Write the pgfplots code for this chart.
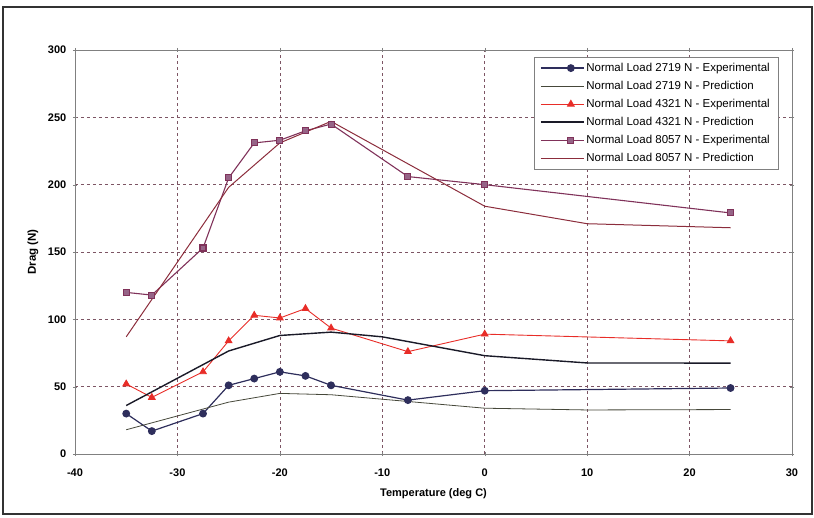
\documentclass[border=0pt]{standalone}
\usepackage{pgfplots}
\pgfplotsset{compat=1.18}
\usepackage{fontspec}
\setmainfont{Liberation Sans}
\definecolor{cA}{RGB}{46,46,92}
\definecolor{cAp}{RGB}{70,72,58}
\definecolor{cB}{RGB}{232,45,40}
\definecolor{cBp}{RGB}{26,26,40}
\definecolor{cC}{RGB}{128,50,90}
\definecolor{cCf}{RGB}{150,100,135}
\definecolor{cCp}{RGB}{140,45,60}
\definecolor{gridc}{RGB}{125,85,100}
\begin{document}
\begin{tikzpicture}
\begin{axis}[
  scale only axis, width=717pt, height=404pt,
  xmin=-40, xmax=30, ymin=0, ymax=300,
  xtick={-40,-30,...,30}, ytick={0,50,...,300},
  grid=major,
  major grid style={dashed, gridc, line width=0.6pt},
  axis line style={gray, line width=0.7pt},
  tick style={gray},
  tick align=center,
  /pgf/number format/assume math mode=true,
  ticklabel style={font=\bfseries\fontsize{11}{12}\selectfont},
  xticklabel style={yshift=-9pt},
  yticklabel style={xshift=-3pt},
  xlabel={Temperature (deg C)}, ylabel={Drag (N)},
  every axis x label/.style={at={(rel axis cs:0.5,0)}, yshift=-40pt, anchor=center, font=\bfseries\fontsize{11}{12}\selectfont},
  every axis y label/.style={at={(rel axis cs:0,0.5)}, xshift=-42pt, rotate=90, anchor=center, font=\bfseries\fontsize{11.5}{12}\selectfont},
  legend style={at={(rel axis cs:0.9805,0.9827)}, anchor=north east, draw=gray, fill=white,
    font=\fontsize{11.5}{13}\selectfont, row sep=4.2pt, inner xsep=6pt, inner ysep=4pt},
  legend cell align=left,
  legend image code/.code={\path (-0.6cm,0cm) -- (0.9cm,0cm);\draw[mark repeat=2,mark phase=2] plot coordinates {(0cm,0cm) (0.45cm,0cm) (0.9cm,0cm)};},
]
% 2719 experimental
\addplot[cA, line width=1.2pt, mark=*, mark size=3.3pt, mark options={fill=cA, draw=cA}] coordinates {
(-35,30) (-32.5,17) (-27.5,30) (-25,51) (-22.5,56) (-20,61) (-17.5,58) (-15,51) (-7.5,40) (0,47) (24,49)};
\addlegendentry{Normal Load 2719 N - Experimental}
% 2719 prediction
\addplot[cAp, line width=0.8pt] coordinates {
(-35,18) (-25,38.5) (-20,45) (-15,44) (0,34) (10,32.7) (24,33)};
\addlegendentry{Normal Load 2719 N - Prediction}
% 4321 experimental
\addplot[cB, line width=0.9pt, mark=triangle*, mark size=3.8pt, mark options={fill=cB, draw=cB}] coordinates {
(-35,52) (-32.5,42) (-27.5,61) (-25,84) (-22.5,103) (-20,101) (-17.5,108) (-15,93.5) (-7.5,76) (0,89) (24,84)};
\addlegendentry{Normal Load 4321 N - Experimental}
% 4321 prediction
\addplot[cBp, line width=1.4pt] coordinates {
(-35,36) (-25,76.5) (-20,88) (-15,90.5) (-10,87) (0,73) (10,67.6) (24,67.5)};
\addlegendentry{Normal Load 4321 N - Prediction}
% 8057 experimental
\addplot[cC, line width=1.1pt, mark=square*, mark size=3pt, mark options={fill=cCf, draw=cC}] coordinates {
(-35,120) (-32.5,118) (-27.5,153) (-25,205) (-22.5,231) (-20,233) (-17.5,240) (-15,245) (-7.5,206) (0,200) (24,179)};
\addlegendentry{Normal Load 8057 N - Experimental}
% 8057 prediction
\addplot[cCp, line width=1.0pt] coordinates {
(-35,87) (-25,198) (-20,231) (-15,247) (0,184) (10,171) (24,168)};
\addlegendentry{Normal Load 8057 N - Prediction}
\end{axis}
\draw[line width=1.2pt, black!80] (-72pt,-60pt) rectangle (737pt,447pt);
\useasboundingbox (-75pt,-64pt) rectangle (739pt,454pt);
\end{tikzpicture}
\end{document}
